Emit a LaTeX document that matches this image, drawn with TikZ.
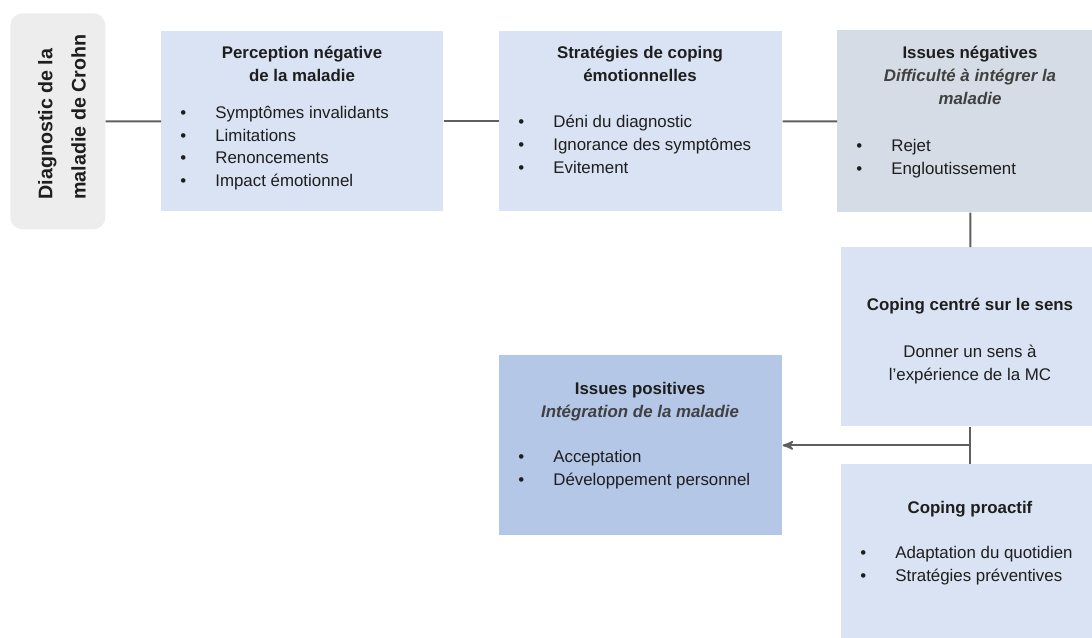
\documentclass[tikz,border=0pt]{standalone}
\usepackage{fontspec}
\setmainfont{Liberation Sans}
\usepackage{xcolor}
\usepackage{tikz}
\usetikzlibrary{arrows}
\definecolor{PaleBlue}{HTML}{DAE3F3}
\definecolor{DeepBlue}{HTML}{B4C7E7}
\definecolor{SlateGrey}{HTML}{D6DCE5}
\definecolor{CardGrey}{HTML}{EDEDED}
\definecolor{LinkGrey}{HTML}{5F5F5F}
\definecolor{InkBlack}{HTML}{1E1E1E}
\definecolor{SubGrey}{HTML}{404040}
\newcommand{\Bul}{\makebox[0.7cm][l]{\textbullet}}
\tikzset{
  BaseBox/.style = {rectangle, inner sep=0pt, anchor=north west},
  PaleBox/.style = {BaseBox, fill=PaleBlue},
  DeepBox/.style = {BaseBox, fill=DeepBlue},
  SlateBox/.style = {BaseBox, fill=SlateGrey},
  CardBox/.style = {BaseBox, fill=CardGrey, rounded corners=0.24cm},
  BaseText/.style = {inner sep=0pt, text=InkBlack, font=\fontsize{9.6}{12.9}\selectfont},
  TitleText/.style = {BaseText, anchor=north, align=center, font=\bfseries\fontsize{9.6}{12.9}\selectfont},
  ListText/.style = {BaseText, anchor=north west, align=left},
  PlainText/.style = {BaseText, anchor=north, align=center},
  DiagText/.style = {BaseText, rotate=90, align=left, font=\bfseries\fontsize{11.2}{19}\selectfont},
}
\newcommand{\Sub}[1]{{\color{SubGrey}\itshape #1}}

\begin{document}
\begin{tikzpicture}[x=0.02cm, y=-0.02cm, >=stealth',
    LinkLine/.style = {draw=LinkGrey, line width=1.1pt}]
    \useasboundingbox (0,0) rectangle (1092,637);

    % boxes
    \node [CardBox, minimum width=1.9cm, minimum height=4.32cm] (diag) at (10,13) {};
    \node [PaleBox, minimum width=5.64cm, minimum height=3.6cm] (percep) at (161,31) {};
    \node [PaleBox, minimum width=5.66cm, minimum height=3.6cm] (strat) at (499,31) {};
    \node [SlateBox, minimum width=5.32cm, minimum height=3.64cm] (neg) at (837,30) {};
    \node [PaleBox, minimum width=5.16cm, minimum height=3.58cm] (sens) at (841,247) {};
    \node [DeepBox, minimum width=5.66cm, minimum height=3.6cm] (pos) at (499,355) {};
    \node [PaleBox, minimum width=5.16cm, minimum height=3.8cm] (proact) at (841,464) {};

    % texts
    \node [DiagText] (diagTxt) at (62,117) {Diagnostic de la\\maladie de Crohn};

    \node [TitleText] (percepTitle) at (302,46) {Perception négative\\de la maladie};
    \node [ListText] (percepList) at (180,106) {\Bul Symptômes invalidants\\\Bul Limitations\\\Bul Renoncements\\\Bul Impact émotionnel};

    \node [TitleText] (stratTitle) at (640,46) {Stratégies de coping\\émotionnelles};
    \node [ListText] (stratList) at (518,115) {\Bul Déni du diagnostic\\\Bul Ignorance des symptômes\\\Bul Evitement};

    \node [TitleText] (negTitle) at (970,46) {Issues négatives\\\Sub{Difficulté à intégrer la}\\\Sub{maladie}};
    \node [ListText] (negList) at (856,139) {\Bul Rejet\\\Bul Engloutissement};

    \node [TitleText] (sensTitle) at (970,298) {Coping centré sur le sens};
    \node [PlainText] (sensTxt) at (970,345) {Donner un sens à\\l’expérience de la MC};

    \node [TitleText] (posTitle) at (640,382) {Issues positives\\\Sub{Intégration de la maladie}};
    \node [ListText] (posList) at (518,450) {\Bul Acceptation\\\Bul Développement personnel};

    \node [TitleText] (proactTitle) at (970,501) {Coping proactif};
    \node [ListText] (proactList) at (860,546) {\Bul Adaptation du quotidien\\\Bul Stratégies préventives};

    % links
    \draw [LinkLine] (diag.east) -- (percep.west);
    \draw [LinkLine] (percep.east) -- (strat.west);
    \draw [LinkLine] (strat.east) -- (neg.west);
    \draw [LinkLine] (neg.south) -- (sens.north);
    \draw [LinkLine] (sens.south) -- (proact.north);
    \draw [LinkLine, ->] (sens.south |- pos.east) -- (pos.east);
\end{tikzpicture}
\end{document}
